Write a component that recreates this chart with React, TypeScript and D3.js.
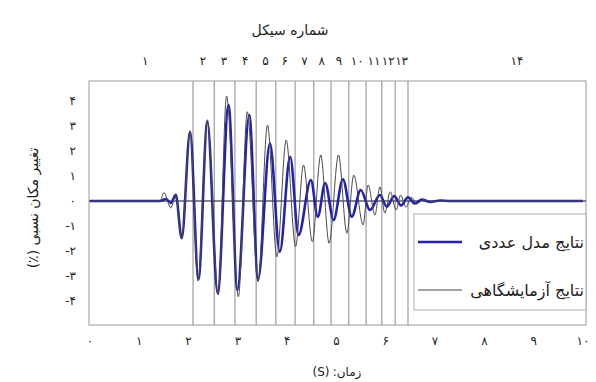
import { scaleLinear, line, curveMonotoneX } from "d3";

// time (s) of each turning point
const modelTimes = [0, 1.42, 1.54, 1.64, 1.74, 1.86, 2.03, 2.2, 2.38, 2.59, 2.81, 2.99, 3.23, 3.41, 3.65, 3.85, 4.06, 4.23, 4.48, 4.62, 4.77, 4.94, 5.13, 5.31, 5.49, 5.68, 5.88, 6.02, 6.17, 6.31, 6.45, 6.59, 6.73, 6.9, 7.1, 7.3, 10];
const modelValues = [0, 0, 0.08, -0.08, 0.25, -1.49, 2.77, -3.13, 3.17, -3.69, 3.84, -3.56, 3.44, -3.13, 2.31, -2.03, 1.77, -1.36, 0.84, -0.63, 0.72, -0.76, 0.87, -0.63, 0.44, -0.36, 0.24, -0.23, 0.2, -0.18, 0.15, -0.1, 0.06, -0.04, 0.02, 0, 0];

const labTimes = [0, 1.42, 1.5, 1.64, 1.74, 1.86, 2.03, 2.19, 2.38, 2.6, 2.77, 3.01, 3.19, 3.41, 3.6, 3.79, 3.98, 4.17, 4.33, 4.51, 4.68, 4.85, 5.04, 5.21, 5.35, 5.54, 5.64, 5.78, 5.88, 5.98, 6.09, 6.21, 6.3, 6.41, 6.52, 6.63, 6.75, 6.9, 7.1, 10];
const labValues = [0, 0, 0.33, -0.28, 0.25, -1.5, 2.8, -3.2, 3.25, -3.76, 4.2, -3.83, 3.57, -3.23, 3.04, -2.23, 2.44, -1.83, 1.44, -1.63, 1.84, -1.69, 1.84, -1.29, 1.04, -0.96, 0.64, -0.56, 0.57, -0.48, 0.37, -0.36, 0.24, -0.25, 0.15, -0.12, 0.06, -0.03, 0, 0];

// cycle boundaries (s) and where the cycle numbers sit
const cycleEnds = [2.09, 2.52, 2.94, 3.37, 3.77, 4.16, 4.54, 4.89, 5.25, 5.6, 5.92, 6.19, 6.45];
const cycleLabels = [1, 2, 3, 4, 5, 6, 7, 8, 9, 10, 11, 12, 13, 14];
const cycleLabelTimes = [1.12, 2.29, 2.72, 3.15, 3.56, 3.95, 4.35, 4.7, 5.05, 5.42, 5.76, 6.05, 6.32, 8.66];

const xTicks = [0, 1, 2, 3, 4, 5, 6, 7, 8, 9, 10];
const yTicks = [-4, -3, -2, -1, 0, 1, 2, 3, 4];

const seriesNames = ["نتایج مدل عددی", "نتایج آزمایشگاهی"];

const fa = (n: number) =>
  String(n).replace(/\d/g, (d) => "۰۱۲۳۴۵۶۷۸۹"[+d]);

const W = 596;
const H = 382;
const frame = { left: 89, right: 586, top: 81, bottom: 325 };
const font = "DejaVu Sans, sans-serif";

export default function App() {
  const x = scaleLinear().domain([0, 10]).range([90, 583]);
  const y = scaleLinear().domain([-5, 4.8]).range([326, 81]);

  const modelPath = line<number>()
    .x((t) => x(t))
    .y((_, i) => y(modelValues[i]))
    .curve(curveMonotoneX)(modelTimes);
  const labPath = line<number>()
    .x((t) => x(t))
    .y((_, i) => y(labValues[i]))
    .curve(curveMonotoneX)(labTimes);

  const blue = "#2222ac";
  const gray = "#4a4a4a";

  return (
    <svg width={W} height={H} style={{ position: "absolute", left: 0, top: 0, background: "#fff" }} fontFamily={font}>
      <defs>
        <clipPath id="plot">
          <rect x={frame.left} y={frame.top} width={frame.right - frame.left} height={frame.bottom - frame.top} />
        </clipPath>
      </defs>

      {/* frame */}
      <rect x={frame.left} y={frame.top} width={frame.right - frame.left} height={frame.bottom - frame.top} fill="#fff" stroke="#9a9a9a" strokeWidth={1} />

      {/* cycle boundaries */}
      {cycleEnds.map((t) => (
        <line key={t} x1={x(t)} x2={x(t)} y1={frame.top} y2={frame.bottom} stroke="#8a8a8a" strokeWidth={1} />
      ))}

      {/* zero line */}
      <line x1={frame.left} x2={frame.right} y1={y(0)} y2={y(0)} stroke="#111" strokeWidth={1.2} />

      <g clipPath="url(#plot)">
        <path d={modelPath || ""} fill="none" stroke={blue} strokeWidth={2.6} strokeLinejoin="round" />
        <path d={labPath || ""} fill="none" stroke={gray} strokeWidth={1} strokeLinejoin="round" />
      </g>

      {/* y ticks */}
      {yTicks.map((v) => (
        <text key={v} x={76} y={y(v)} dy="0.35em" textAnchor="end" fontSize={12} fill="#222" direction="ltr">
          {v < 0 ? "-" + fa(-v) : fa(v)}
        </text>
      ))}

      {/* x ticks */}
      {xTicks.map((v) => (
        <text key={v} x={x(v)} y={341} dy="0.35em" textAnchor="middle" fontSize={12} fill="#222">
          {fa(v)}
        </text>
      ))}

      {/* cycle numbers */}
      {cycleLabels.map((c, i) => (
        <text key={c} x={x(cycleLabelTimes[i])} y={61} dy="0.35em" textAnchor="middle" fontSize={12} fill="#222">
          {fa(c)}
        </text>
      ))}

      <text x={290} y={30} dy="0.35em" textAnchor="middle" fontSize={14} fill="#222" direction="rtl">
        شماره سیکل
      </text>
      {/* x title: unit on the left, word on the right */}
      <text x={321} y={372} dy="0.35em" textAnchor="middle" fontSize={12} fill="#222">
        (S)
      </text>
      <text x={347} y={372} dy="0.35em" textAnchor="middle" fontSize={12} fill="#222" direction="rtl" unicodeBidi="embed">
        زمان:
      </text>
      <text transform="translate(33,208) rotate(-90)" dy="0.35em" textAnchor="middle" fontSize={14} fill="#222" direction="rtl" unicodeBidi="embed">
        تغییر مکان نسبی (٪)
      </text>

      {/* legend */}
      <rect x={414} y={214} width={172} height={96} fill="#fff" stroke="#aaa" strokeWidth={1} />
      <line x1={418} x2={462} y1={242} y2={242} stroke={blue} strokeWidth={2.6} />
      <line x1={418} x2={462} y1={290} y2={290} stroke={gray} strokeWidth={1} />
      <text x={584} y={242} dy="0.35em" textAnchor="end" fontSize={16} fill="#222">
        {seriesNames[0]}
      </text>
      <text x={584} y={290} dy="0.35em" textAnchor="end" fontSize={16} fill="#222">
        {seriesNames[1]}
      </text>
    </svg>
  );
}
